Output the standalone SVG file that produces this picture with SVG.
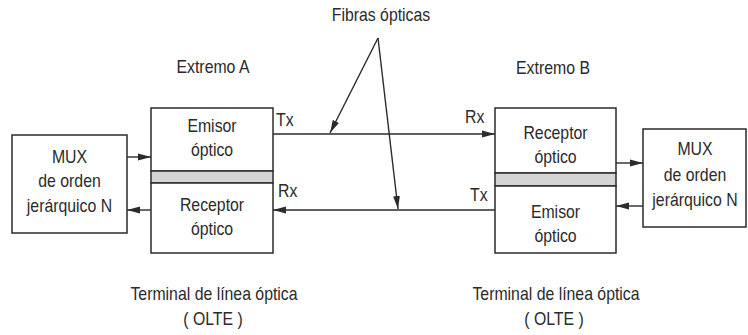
<svg xmlns="http://www.w3.org/2000/svg" width="748" height="335" viewBox="0 0 748 335">
<defs>
<style>
text{font-family:"Liberation Sans",Arial,sans-serif;font-size:18px;fill:#2b2b2b}
.c{text-anchor:middle}
.box{fill:#fff;stroke:#2b2b2b;stroke-width:1.5}
.band{fill:#d4d4d4;stroke:#2b2b2b;stroke-width:1.5}
.ln{fill:none;stroke:#2b2b2b;stroke-width:1.4}
</style>
<marker id="ah" markerUnits="userSpaceOnUse" markerWidth="14" markerHeight="8" refX="13" refY="4" orient="auto">
<path d="M0,0.6 L13,4 L0,7.4 z" fill="#2b2b2b"/>
</marker>
</defs>
<rect width="748" height="335" fill="#fff"/>

<g id="labels">
<text class="c" transform="translate(381,21) scale(0.88,1)">Fibras ópticas</text>
<text class="c" transform="translate(213,73) scale(0.88,1)">Extremo A</text>
<text class="c" transform="translate(553,74) scale(0.88,1)">Extremo B</text>
<text transform="translate(276,126) scale(0.88,1)">Tx</text>
<text transform="translate(278,197) scale(0.88,1)">Rx</text>
<text transform="translate(465,123) scale(0.88,1)">Rx</text>
<text transform="translate(470,201) scale(0.88,1)">Tx</text>
<text class="c" transform="translate(214,300) scale(0.88,1)">Terminal de línea óptica</text>
<text class="c" transform="translate(213,325) scale(0.88,1)">( OLTE )</text>
<text class="c" transform="translate(556,300) scale(0.88,1)">Terminal de línea óptica</text>
<text class="c" transform="translate(554,325) scale(0.88,1)">( OLTE )</text>
</g>

<g id="mux-a">
<rect class="box" x="12" y="135" width="115" height="98"/>
<text class="c" transform="translate(69.5,163) scale(0.88,1)">MUX</text>
<text class="c" transform="translate(69.5,187) scale(0.88,1)">de orden</text>
<text class="c" transform="translate(69.5,212) scale(0.88,1)">jerárquico N</text>
</g>

<g id="olte-a">
<g id="emisor-a">
<rect class="box" x="151" y="108" width="122" height="63"/>
<text class="c" transform="translate(212,132) scale(0.88,1)">Emisor</text>
<text class="c" transform="translate(212,156) scale(0.88,1)">óptico</text>
</g>
<rect class="band" x="151" y="171" width="122" height="12"/>
<g id="receptor-a">
<rect class="box" x="151" y="183" width="122" height="70"/>
<text class="c" transform="translate(212,211) scale(0.88,1)">Receptor</text>
<text class="c" transform="translate(212,235) scale(0.88,1)">óptico</text>
</g>
</g>

<g id="olte-b">
<g id="receptor-b">
<rect class="box" x="495" y="108" width="121" height="65"/>
<text class="c" transform="translate(555.5,139) scale(0.88,1)">Receptor</text>
<text class="c" transform="translate(555.5,163) scale(0.88,1)">óptico</text>
</g>
<rect class="band" x="495" y="173" width="121" height="13"/>
<g id="emisor-b">
<rect class="box" x="495" y="186" width="121" height="67"/>
<text class="c" transform="translate(555.5,218) scale(0.88,1)">Emisor</text>
<text class="c" transform="translate(555.5,242) scale(0.88,1)">óptico</text>
</g>
</g>

<g id="mux-b">
<rect class="box" x="643" y="129" width="103" height="98"/>
<text class="c" transform="translate(695,155) scale(0.88,1)">MUX</text>
<text class="c" transform="translate(695,181) scale(0.88,1)">de orden</text>
<text class="c" transform="translate(695,206) scale(0.88,1)">jerárquico N</text>
</g>

<g id="connectors">
<line class="ln" x1="127" y1="157" x2="151" y2="157" marker-end="url(#ah)"/>
<line class="ln" x1="151" y1="210" x2="127" y2="210" marker-end="url(#ah)"/>
<line class="ln" x1="273" y1="134" x2="495" y2="134" marker-end="url(#ah)"/>
<line class="ln" x1="495" y1="210" x2="273" y2="210" marker-end="url(#ah)"/>
<line class="ln" x1="616" y1="163" x2="643" y2="163" marker-end="url(#ah)"/>
<line class="ln" x1="643" y1="206" x2="616" y2="206" marker-end="url(#ah)"/>
<line class="ln" x1="378" y1="38" x2="330" y2="133" marker-end="url(#ah)"/>
<line class="ln" x1="378" y1="38" x2="398" y2="209" marker-end="url(#ah)"/>
</g>
</svg>
